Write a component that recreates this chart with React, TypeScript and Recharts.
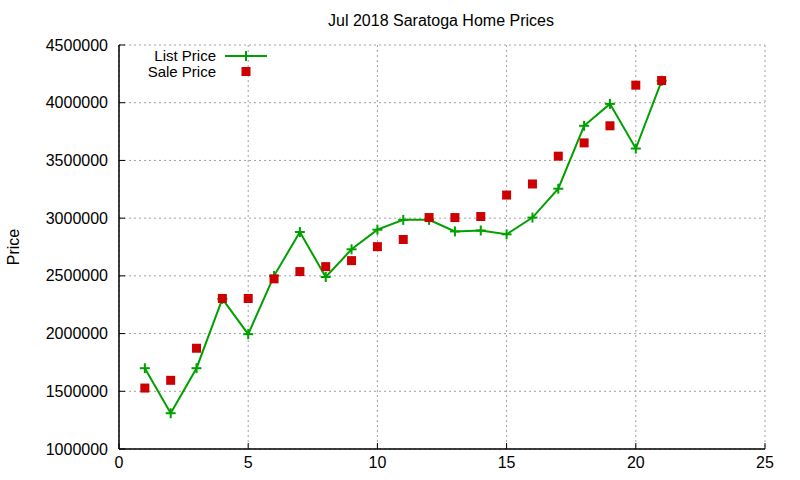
import React from "react";
import {
  ComposedChart,
  Line,
  Scatter,
  XAxis,
  YAxis,
  CartesianGrid,
  Customized,
} from "recharts";

const FONT = '"Liberation Sans", Arial, sans-serif';
const GREEN = "#00a000";
const RED = "#cc0000";

// month index within the period
const points = [1, 2, 3, 4, 5, 6, 7, 8, 9, 10, 11, 12, 13, 14, 15, 16, 17, 18, 19, 20, 21];
const listPrice = [
  1700000, 1310000, 1700000, 2300000, 1995000, 2500000, 2880000, 2490000, 2730000,
  2900000, 2985000, 2985000, 2885000, 2893000, 2860000, 3005000, 3255000, 3800000,
  3990000, 3603000, 4190000,
];
const salePrice = [
  1528000, 1595000, 1873000, 2304000, 2304000, 2474000, 2537000, 2580000, 2632000,
  2753000, 2815000, 3005000, 3005000, 3014000, 3200000, 3296000, 3537000, 3652000,
  3800000, 4152000, 4192000,
];
const xTicks = [0, 5, 10, 15, 20, 25];
const yTicks = [1000000, 1500000, 2000000, 2500000, 3000000, 3500000, 4000000, 4500000];

const data = points.map((x, i) => ({ x, list: listPrice[i], sale: salePrice[i] }));

const TICK = 6;

const BottomTick = (props: any) => {
  const { x, y, payload } = props;
  return (
    <g>
      <line x1={x} x2={x} y1={y} y2={y - TICK} stroke="#000" strokeWidth={1} />
      <text x={x} y={y + 13} textAnchor="middle" dominantBaseline="central" fontSize={16} fontFamily={FONT} fill="#000">
        {payload.value}
      </text>
    </g>
  );
};

const TopTick = (props: any) => {
  const { x, y } = props;
  return <line x1={x} x2={x} y1={y} y2={y + TICK} stroke="#000" strokeWidth={1} />;
};

const LeftTick = (props: any) => {
  const { x, y, payload } = props;
  return (
    <g>
      <line x1={x} x2={x + TICK} y1={y} y2={y} stroke="#000" strokeWidth={1} />
      <text x={x - 11} y={y} textAnchor="end" dominantBaseline="central" fontSize={16} fontFamily={FONT} fill="#000">
        {payload.value}
      </text>
    </g>
  );
};

const RightTick = (props: any) => {
  const { x, y } = props;
  return <line x1={x} x2={x - TICK} y1={y} y2={y} stroke="#000" strokeWidth={1} />;
};

const PlusDot = (props: any) => {
  const { cx, cy } = props;
  if (cx == null || cy == null) return null;
  return (
    <g>
      <line x1={cx - 5} x2={cx + 5} y1={cy} y2={cy} stroke={GREEN} strokeWidth={2} />
      <line x1={cx} x2={cx} y1={cy - 5} y2={cy + 5} stroke={GREEN} strokeWidth={2} />
    </g>
  );
};

const Square = (props: any) => {
  const { cx, cy } = props;
  if (cx == null || cy == null) return null;
  return <rect x={cx - 4.5} y={cy - 4.5} width={9} height={9} fill={RED} />;
};

// title, y-axis label and the key, placed as gnuplot does
const Labels = () => (
  <g>
    <text x={441} y={20} textAnchor="middle" dominantBaseline="central" fontSize={16} fontFamily={FONT} fill="#000">
      Jul 2018 Saratoga Home Prices
    </text>
    <text
      x={13}
      y={247}
      textAnchor="middle"
      dominantBaseline="central"
      fontSize={16}
      fontFamily={FONT}
      fill="#000"
      transform="rotate(-90 13 247)"
    >
      Price
    </text>
    <text x={216} y={55} textAnchor="end" dominantBaseline="central" fontSize={15} fontFamily={FONT} fill="#000">
      List Price
    </text>
    <line x1={225} x2={267} y1={56} y2={56} stroke={GREEN} strokeWidth={2} />
    <line x1={246} x2={246} y1={51} y2={61} stroke={GREEN} strokeWidth={2} />
    <text x={216} y={71.5} textAnchor="end" dominantBaseline="central" fontSize={15} fontFamily={FONT} fill="#000">
      Sale Price
    </text>
    <rect x={241.5} y={67} width={9} height={9} fill={RED} />
  </g>
);

export default function App() {
  return (
    <div style={{ position: "fixed", left: 0, top: 0, width: 800, height: 480, background: "#fff" }}>
      <ComposedChart width={800} height={480} data={data} margin={{ top: 45, right: 35, bottom: 0, left: 9 }}>
        <CartesianGrid stroke="#a0a0a0" strokeDasharray="2 3" strokeWidth={1} />
        <XAxis
          dataKey="x"
          type="number"
          domain={[0, 25]}
          ticks={xTicks}
          allowDataOverflow
          height={31}
          tickSize={0}
          tickMargin={0}
          tickLine={false}
          axisLine={{ stroke: "#000", strokeWidth: 1.5 }}
          tick={<BottomTick />}
          interval={0}
        />
        <XAxis
          xAxisId="top"
          orientation="top"
          dataKey="x"
          type="number"
          domain={[0, 25]}
          ticks={xTicks}
          allowDataOverflow
          height={0}
          tickSize={0}
          tickMargin={0}
          tickLine={false}
          axisLine={{ stroke: "#000", strokeWidth: 1.5 }}
          tick={<TopTick />}
          interval={0}
        />
        <YAxis
          type="number"
          domain={[1000000, 4500000]}
          ticks={yTicks}
          allowDataOverflow
          width={110}
          tickSize={0}
          tickMargin={0}
          tickLine={false}
          axisLine={{ stroke: "#000", strokeWidth: 1.5 }}
          tick={<LeftTick />}
          interval={0}
        />
        <YAxis
          yAxisId="right"
          orientation="right"
          type="number"
          domain={[1000000, 4500000]}
          ticks={yTicks}
          allowDataOverflow
          width={0}
          tickSize={0}
          tickMargin={0}
          tickLine={false}
          axisLine={{ stroke: "#000", strokeWidth: 1.5 }}
          tick={<RightTick />}
          interval={0}
        />
        <Line
          dataKey="list"
          name="List Price"
          type="linear"
          stroke={GREEN}
          strokeWidth={2}
          dot={<PlusDot />}
          activeDot={false}
          isAnimationActive={false}
        />
        <Scatter dataKey="sale" name="Sale Price" shape={<Square />} isAnimationActive={false} />
        <Customized component={<Labels />} />
      </ComposedChart>
    </div>
  );
}
